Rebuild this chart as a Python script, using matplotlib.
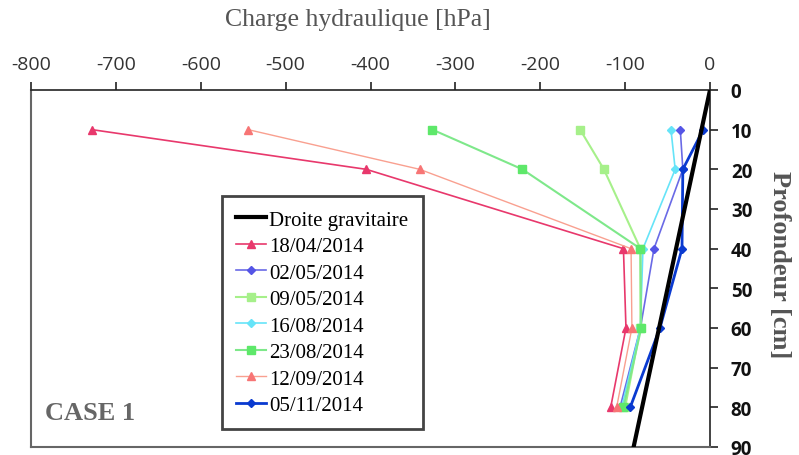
import matplotlib
matplotlib.use("Agg")
import matplotlib.pyplot as plt

plt.rcParams["axes.unicode_minus"] = False

depths = [10, 20, 40, 60, 80]
grav_x = [0, -90]
grav_depth = [0, 90]

dates = ["18/04/2014", "02/05/2014", "09/05/2014", "16/08/2014",
         "23/08/2014", "12/09/2014", "05/11/2014"]
h_1804 = [-728, -405, -102, -99, -117]
h_0205 = [-35, -32, -66, -82, -106]
h_0905 = [-153, -125, -82, -82, -100]
h_1608 = [-46, -41, -79, -82, -104]
h_2308 = [-327, -221, -82, -81, -102]
h_1209 = [-544, -342, -93, -92, -110]
h_0511 = [-8, -32, -33, -59, -94]

series = [h_1804, h_0205, h_0905, h_1608, h_2308, h_1209, h_0511]
colors = ["#E8386C", "#5555E6", "#A6F08A", "#66E4F8", "#5EE86A", "#F77575", "#0A3AD0"]
linecolors = ["#E8386C", "#6A6AE6", "#A6F08A", "#66E4F8", "#7EE88A", "#F9A090", "#0A3AD0"]
markers = ["^", "D", "s", "D", "s", "^", "D"]
msizes = [6, 4, 5.5, 4, 5.5, 6, 4]
lws = [1.2, 1.2, 1.5, 1.2, 1.5, 1.0, 2.0]

fig = plt.figure(figsize=(7.99, 4.56), dpi=100)
ax = fig.add_axes([31/799, 1-448/456, (710-31)/799, (448-91)/456])

ax.plot(grav_x, grav_depth, color="black", lw=3, label="Droite gravitaire", zorder=5)
for d, s, c, lc, m, ms, lw in zip(dates, series, colors, linecolors, markers, msizes, lws):
    ax.plot(s, depths, color=lc, lw=lw, marker=m, markersize=ms,
            markerfacecolor=c, markeredgecolor=c, label=d)

ax.set_xlim(-800, 0)
ax.set_ylim(90, 0)
ax.set_xticks(range(-800, 1, 100))
ax.set_yticks(range(0, 91, 10))
ax.xaxis.tick_top()
ax.yaxis.tick_right()
ax.xaxis.set_label_position("top")
ax.yaxis.set_label_position("right")

for sp in ["left", "bottom"]:
    ax.spines[sp].set_color("#666666")
    ax.spines[sp].set_linewidth(1.5)
for sp in ["top", "right"]:
    ax.spines[sp].set_color("#222222")
    ax.spines[sp].set_linewidth(1.2)

ax.tick_params(axis="x", direction="out", length=6, width=1.2, colors="#222222",
               labelsize=14, pad=6)
ax.tick_params(axis="y", direction="out", length=6, width=1.2, colors="#222222",
               labelsize=13.5, pad=9)
for lab in ax.get_xticklabels():
    lab.set_fontfamily("Open Sans")
    lab.set_color("#333333")
for lab in ax.get_yticklabels():
    lab.set_fontfamily("Open Sans")
    lab.set_fontweight("bold")
    lab.set_color("#111111")

ax.set_xlabel("Charge hydraulique [hPa]", family="Liberation Serif", fontsize=18.5,
              color="#555555")
ax.xaxis.set_label_coords(0.482, 1 + (91 - 20) / 357, transform=ax.transAxes)
ax.xaxis.label.set_va("center")
ax.set_ylabel("Profondeur [cm]", family="Liberation Serif", fontsize=19,
              fontweight="bold", color="#555555", rotation=-90)
ax.yaxis.set_label_coords(1 + (780 - 710) / 679, 1 - (265 - 91) / 357, transform=ax.transAxes)
ax.yaxis.label.set_va("center")
ax.yaxis.label.set_ha("center")

ax.text((45 - 31) / 679, (448 - 414) / 357, "CASE 1", transform=ax.transAxes,
        family="Liberation Serif", fontsize=19, fontweight="bold", color="#666666",
        va="center", ha="left")

leg = ax.legend(loc="upper left", bbox_to_anchor=(0.281, 0.703), borderaxespad=0,
                prop={"family": "Liberation Serif", "size": 15}, fancybox=False,
                framealpha=1, edgecolor="#444444", handlelength=1.45,
                handletextpad=0.15, labelspacing=0.33, borderpad=0.68)
leg.get_frame().set_linewidth(2)

fig.savefig("out.png", dpi=100)
